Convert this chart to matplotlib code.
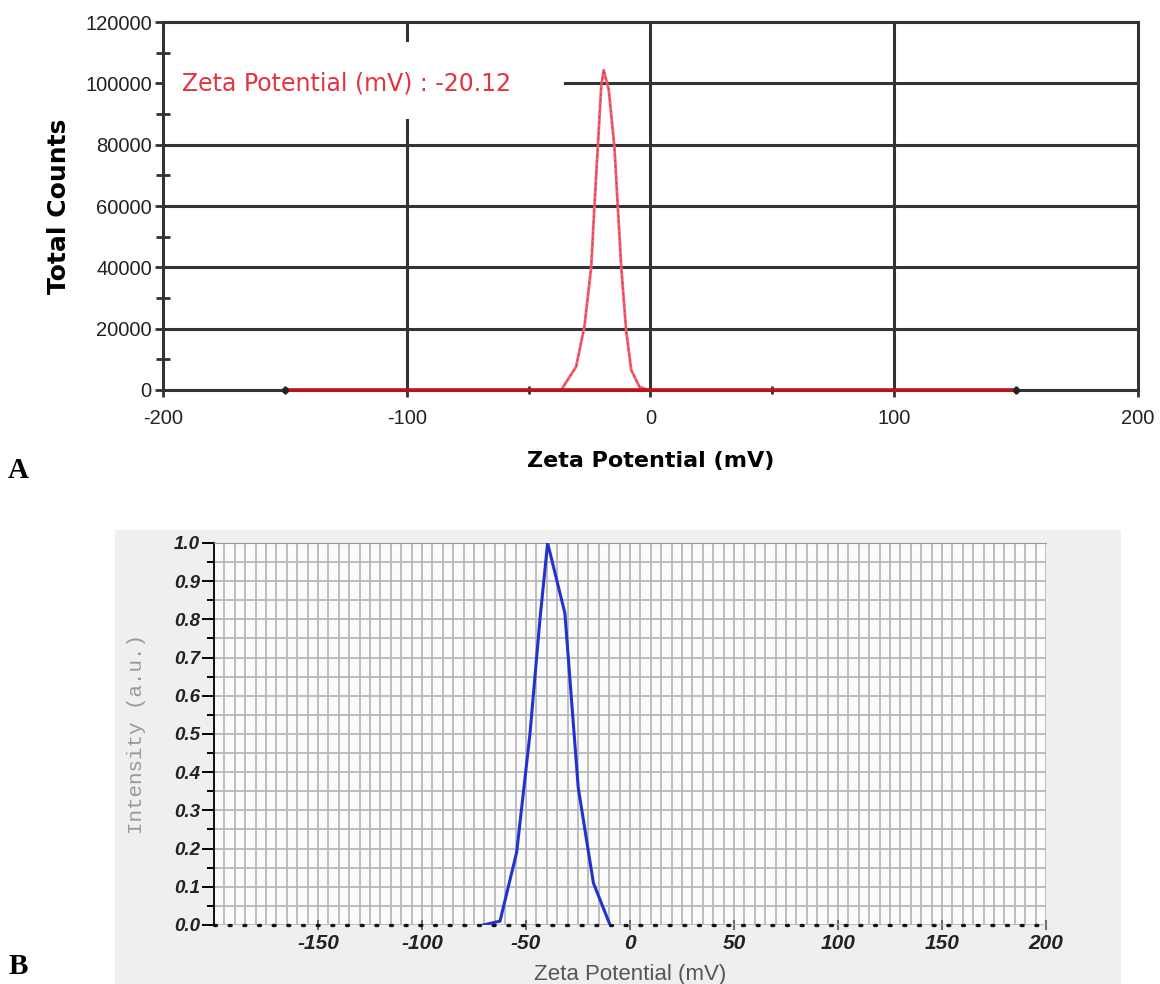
import numpy as np
import matplotlib.pyplot as plt
from matplotlib.patches import Rectangle

plt.rcParams["axes.unicode_minus"] = False

# panel A: total counts vs zeta potential
A_BASE_X = [-150, 150]
A_PEAK_X = [-36.6, -30.5, -27.1, -24.3, -23.0, -21.6, -20.2, -19.2, -17.1, -14.8, -13.4, -12.0, -10.0, -7.9, -4.5, -1.1]
A_PEAK_Y = [0, 7600, 20650, 40200, 59800, 79350, 98900, 104350, 97800, 79300, 59800, 40200, 19560, 6500, 1000, 0]
A_YTICKS = [0, 20000, 40000, 60000, 80000, 100000, 120000]
A_XTICKS = [-200, -100, 0, 100, 200]
A_NOTE = "Zeta Potential (mV) : -20.12"

# panel B: intensity vs zeta potential
B_X = [-70.5, -62.5, -54.5, -48.1, -43.3, -39.6, -31.3, -24.9, -17.6, -9.6]
B_Y = [0.0, 0.01, 0.19, 0.50, 0.80, 1.0, 0.816, 0.36, 0.11, 0.0]
B_XTICKS = [-150, -100, -50, 0, 50, 100, 150, 200]
B_YTICKS = [0.0, 0.1, 0.2, 0.3, 0.4, 0.5, 0.6, 0.7, 0.8, 0.9, 1.0]

GRID_A = "#333333"
RED_TXT = "#e5323f"


def draw_panel_a(ax):
    ax.set_xlim(-200, 200)
    ax.set_ylim(0, 120000)
    # grid lines, with the gaps left by the annotation
    for y in A_YTICKS[1:-1]:
        x0 = -35 if y == 100000 else -200
        ax.plot([x0, 200], [y, y], color=GRID_A, lw=2.2, zorder=1)
    ax.plot([-100, -100], [0, 88000], color=GRID_A, lw=2.2, zorder=1)
    ax.plot([-100, -100], [114000, 120000], color=GRID_A, lw=2.2, zorder=1)
    for x in [0, 100]:
        ax.plot([x, x], [0, 120000], color=GRID_A, lw=2.2, zorder=1)
    ax.plot(A_PEAK_X, A_PEAK_Y, color="#f06070", lw=2.0, zorder=3)
    ax.plot(A_PEAK_X, A_PEAK_Y, color="#d83848", lw=0.8, dashes=[2, 3], zorder=4)
    ax.plot(A_BASE_X, [0, 0], color="#c0101c", lw=2.6, zorder=5, clip_on=False)
    ax.plot(A_BASE_X, [0, 0], ls="none", marker="o", ms=4, color="#222222", zorder=6,
            clip_on=False)
    ax.text(-192, 100000, A_NOTE, color=RED_TXT, fontsize=17, family="DejaVu Sans",
            va="center", ha="left")
    for s in ax.spines.values():
        s.set_color(GRID_A)
        s.set_linewidth(2.2)
    ax.set_yticks(A_YTICKS)
    ax.set_yticklabels([str(v) for v in A_YTICKS])
    ax.set_yticks(np.arange(10000, 120000, 20000), minor=True)
    ax.set_xticks(A_XTICKS)
    ax.set_xticks([-150, -50, 50, 150], minor=True)
    ax.tick_params(axis="y", which="major", direction="out", length=6, width=2, color=GRID_A,
                   labelsize=14.5, pad=2)
    ax.tick_params(axis="y", which="minor", direction="inout", length=10, width=2, color=GRID_A)
    ax.tick_params(axis="x", which="major", direction="out", length=5, width=2, color=GRID_A,
                   labelsize=14.5, pad=9)
    ax.tick_params(axis="x", which="minor", direction="inout", length=6, width=2, color=GRID_A)
    for lab in ax.get_xticklabels() + ax.get_yticklabels():
        lab.set_family("Liberation Sans")
        lab.set_color("#222222")
    ax.set_xlabel("Zeta Potential (mV)", fontsize=16, fontweight="bold", labelpad=16)
    ax.set_ylabel("Total Counts", fontsize=18, fontweight="bold", labelpad=10)


def draw_panel_b(ax):
    ax.set_xlim(-200, 200)
    ax.set_ylim(0, 1.0)
    ax.set_facecolor("#fbfbfb")
    ax.set_xticks(np.arange(-200, 201, 5), minor=True)
    ax.set_yticks(np.arange(0, 1.001, 0.05), minor=True)
    ax.grid(True, which="both", color="#b8b8b8", lw=1.3, zorder=0)
    ax.set_axisbelow(True)
    ax.plot([-200, 200], [0, 0], color="#111111", lw=2.4, dashes=[0.6, 3.8],
            dash_capstyle="round", zorder=3, clip_on=False)
    ax.plot(B_X, B_Y, color="#2233cc", lw=2.2, zorder=4)
    ax.spines["right"].set_visible(False)
    ax.spines["bottom"].set_visible(False)
    ax.spines["top"].set_color("#999999")
    ax.spines["left"].set_color("#111111")
    ax.spines["left"].set_linewidth(1.4)
    ax.set_xticks(B_XTICKS)
    ax.set_yticks(B_YTICKS)
    ax.set_yticklabels([f"{v:.1f}" for v in B_YTICKS])
    ax.tick_params(axis="y", which="major", direction="out", length=9, width=1.4,
                   labelsize=13.5, pad=1)
    ax.tick_params(axis="y", which="minor", direction="out", length=5, width=1.4)
    ax.tick_params(axis="x", which="major", direction="inout", length=7, width=1.2,
                   labelsize=15, pad=3, color="#555555")
    ax.tick_params(axis="x", which="minor", length=0)
    for lab in ax.get_xticklabels() + ax.get_yticklabels():
        lab.set_family("Liberation Sans")
        lab.set_fontweight("bold")
        lab.set_fontstyle("italic")
        lab.set_color("#222222")
    ax.set_xlabel("Zeta Potential (mV)", fontsize=16, family="Liberation Sans",
                  color="#555555", labelpad=8)
    ax.set_ylabel("Intensity (a.u.)", fontsize=15, family="Liberation Mono",
                  color="#999999", labelpad=20)


def main():
    fig = plt.figure(figsize=(11.6, 9.84), dpi=100)
    fig.patches.append(Rectangle((0.0991, 0.0), 0.8673, 0.4614, transform=fig.transFigure,
                                 facecolor="#efefef", edgecolor="none", zorder=-1))
    ax_a = fig.add_axes([0.1405, 0.6037, 0.8405, 0.3739])
    ax_b = fig.add_axes([0.1845, 0.0600, 0.7172, 0.3882])
    draw_panel_a(ax_a)
    draw_panel_b(ax_b)
    fig.text(0.007, 0.522, "A", fontsize=21, fontweight="bold", family="Liberation Serif",
             va="center", ha="left")
    fig.text(0.007, 0.004, "B", fontsize=21, fontweight="bold", family="Liberation Serif",
             va="bottom", ha="left")
    fig.savefig("out.png", dpi=100)
    plt.close(fig)


if __name__ == "__main__":
    main()
